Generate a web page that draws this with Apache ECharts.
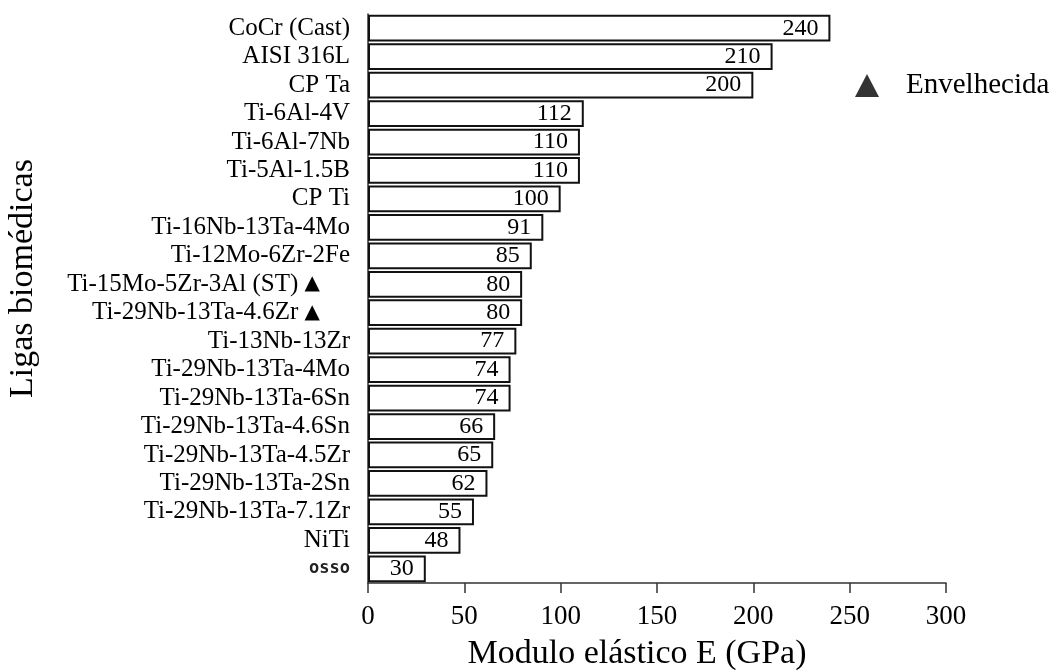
<!DOCTYPE html>
<html>
<head>
<meta charset="utf-8">
<script src="https://cdn.jsdelivr.net/npm/echarts@6/dist/echarts.min.js"></script>
<style>html,body{margin:0;padding:0;background:#fff}#c{width:1056px;height:670px}</style>
</head>
<body>
<div id="c"></div>
<script>
const categories = ["CoCr (Cast)","AISI 316L","CP Ta","Ti-6Al-4V","Ti-6Al-7Nb","Ti-5Al-1.5B","CP Ti","Ti-16Nb-13Ta-4Mo","Ti-12Mo-6Zr-2Fe","Ti-15Mo-5Zr-3Al (ST)","Ti-29Nb-13Ta-4.6Zr","Ti-13Nb-13Zr","Ti-29Nb-13Ta-4Mo","Ti-29Nb-13Ta-6Sn","Ti-29Nb-13Ta-4.6Sn","Ti-29Nb-13Ta-4.5Zr","Ti-29Nb-13Ta-2Sn","Ti-29Nb-13Ta-7.1Zr","NiTi","osso"];
const modulus = [240,210,200,112,110,110,100,91,85,80,80,77,74,74,66,65,62,55,48,30];
const aged = ["Ti-15Mo-5Zr-3Al (ST)","Ti-29Nb-13Ta-4.6Zr"];
const xTicks = [0,50,100,150,200,250,300];

const serif = '"Liberation Serif", "Times New Roman", serif';
const chart = echarts.init(document.getElementById('c'));
chart.setOption({
  animation: false,
  backgroundColor: '#fff',
  grid: {left: 368, right: 110, top: 14, bottom: 87, containLabel: false, outerBoundsMode: 'none'},
  legend: {
    left: 850, top: 66,
    data: [{name: 'Envelhecida', icon: 'triangle'}],
    itemWidth: 24, itemHeight: 23,
    textStyle: {fontFamily: serif, fontSize: 29, color: '#000', padding: [0,0,0,22]}
  },
  xAxis: {
    type: 'value', min: xTicks[0], max: xTicks[xTicks.length-1], interval: 50,
    name: 'Modulo elástico E (GPa)', nameLocation: 'middle', nameGap: 54,
    nameTextStyle: {fontFamily: serif, fontSize: 34, color: '#000', padding: [0, 40, 0, 0]},
    axisLine: {show: true, lineStyle: {color: '#333', width: 1.5}},
    axisTick: {show: true, length: 10, lineStyle: {color: '#333', width: 1.5}},
    axisLabel: {fontFamily: serif, fontSize: 27, color: '#000', margin: 20},
    splitLine: {show: false}
  },
  yAxis: {
    type: 'category', data: categories, inverse: true,
    name: 'Ligas biomédicas', nameLocation: 'middle', nameGap: 328, nameRotate: 90,
    nameTextStyle: {fontFamily: serif, fontSize: 34, color: '#000', padding: [0, 0, 0, 40]},
    axisLine: {show: true, lineStyle: {color: '#333', width: 1.5}},
    axisTick: {show: false},
    axisLabel: {
      interval: 0,
      margin: 18, fontFamily: serif, fontSize: 25, color: '#000',
      formatter: function (v) {
        if (v === 'osso') return '{osso|' + v + '}';
        if (aged.indexOf(v) >= 0) return v + ' {tri|▲}';
        return v;
      },
      rich: {
        osso: {fontFamily: '"DejaVu Sans Mono", monospace', fontWeight: 'bold', fontSize: 17, color: '#222'},
        tri: {fontFamily: '"DejaVu Sans", sans-serif', fontSize: 20, color: '#000', padding: [0, 30, 0, 0]}
      }
    }
  },
  series: [
    {
      type: 'bar', name: 'E', data: modulus,
      barCategoryGap: '6%',
      itemStyle: {color: '#fff', borderColor: '#111', borderWidth: 2},
      label: {show: true, position: 'insideRight', distance: 12, fontFamily: serif, fontSize: 24, color: '#000'}
    },
    {
      type: 'scatter', name: 'Envelhecida', data: [], symbol: 'triangle',
      itemStyle: {color: '#000'}
    }
  ]
});
</script>
</body>
</html>
